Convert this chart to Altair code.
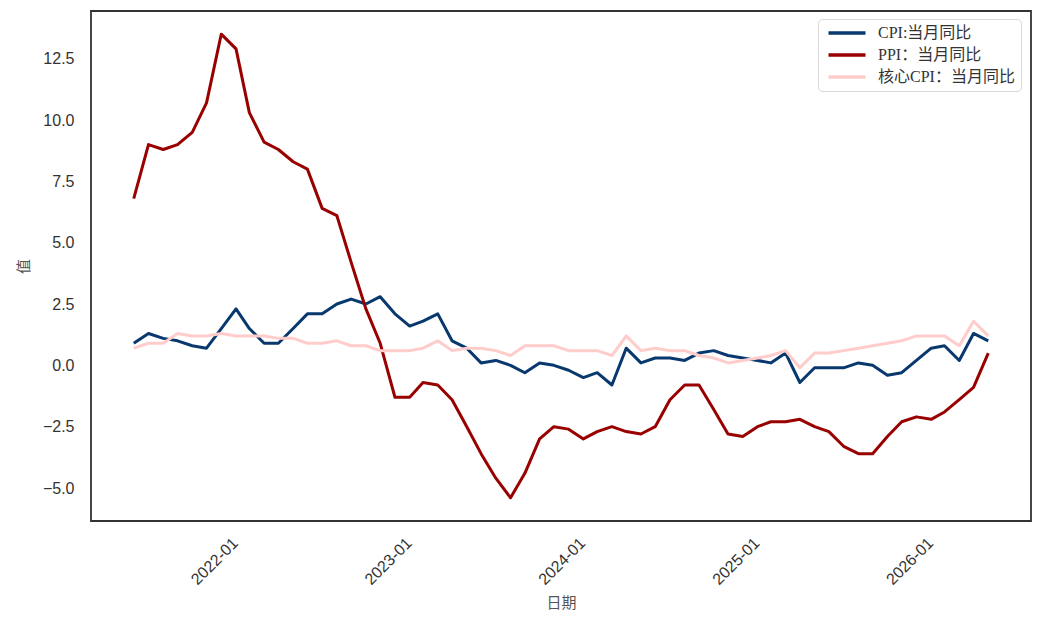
import altair as alt
import pandas as pd

# ---- data ----
start_month = "2021-07-01"
n_months = 60

cpi = [0.9, 1.3, 1.1, 1.0, 0.8, 0.7, 1.5, 2.3, 1.5, 0.9,
       0.9, 1.5, 2.1, 2.1, 2.5, 2.7, 2.5, 2.8, 2.1, 1.6,
       1.8, 2.1, 1.0, 0.7, 0.1, 0.2, 0.0, -0.3, 0.1, 0.0,
       -0.2, -0.5, -0.3, -0.8, 0.7, 0.1, 0.3, 0.3, 0.2, 0.5,
       0.6, 0.4, 0.3, 0.2, 0.1, 0.5, -0.7, -0.1, -0.1, -0.1,
       0.1, 0.0, -0.4, -0.3, 0.2, 0.7, 0.8, 0.2, 1.3, 1.0]

ppi = [6.8, 9.0, 8.8, 9.0, 9.5, 10.7, 13.5, 12.9, 10.3, 9.1,
       8.8, 8.3, 8.0, 6.4, 6.1, 4.2, 2.3, 0.9, -1.3, -1.3,
       -0.7, -0.8, -1.4, -2.5, -3.6, -4.6, -5.4, -4.4, -3.0, -2.5,
       -2.6, -3.0, -2.7, -2.5, -2.7, -2.8, -2.5, -1.4, -0.8, -0.8,
       -1.8, -2.8, -2.9, -2.5, -2.3, -2.3, -2.2, -2.5, -2.7, -3.3,
       -3.6, -3.6, -2.9, -2.3, -2.1, -2.2, -1.9, -1.4, -0.9, 0.5]

core_cpi = [0.7, 0.9, 0.9, 1.3, 1.2, 1.2, 1.3, 1.2, 1.2, 1.2,
            1.1, 1.1, 0.9, 0.9, 1.0, 0.8, 0.8, 0.6, 0.6, 0.6,
            0.7, 1.0, 0.6, 0.7, 0.7, 0.6, 0.4, 0.8, 0.8, 0.8,
            0.6, 0.6, 0.6, 0.4, 1.2, 0.6, 0.7, 0.6, 0.6, 0.4,
            0.3, 0.1, 0.2, 0.3, 0.4, 0.6, -0.1, 0.5, 0.5, 0.6,
            0.7, 0.8, 0.9, 1.0, 1.2, 1.2, 1.2, 0.8, 1.8, 1.2]

series_names = ["CPI:当月同比", "PPI：当月同比", "核心CPI：当月同比"]
series_colors = ["#08386e", "#990000", "#ffcccc"]

x_tick_dates = ["2022-01-01", "2023-01-01", "2024-01-01", "2025-01-01", "2026-01-01"]
y_tick_values = [-5.0, -2.5, 0.0, 2.5, 5.0, 7.5, 10.0, 12.5]

# ---- build long table ----
months = pd.date_range(start_month, periods=n_months, freq="MS")
rows = []
for name, vals in zip(series_names, [cpi, ppi, core_cpi]):
    for d, v in zip(months, vals):
        rows.append({"date": d.strftime("%Y-%m-%d"), "series": name, "value": v})
df = pd.DataFrame(rows)


def ms(ts):
    return int(pd.Timestamp(ts).value // 10**6)


# matplotlib-like 5% margins
t0, t1 = ms(months[0]), ms(months[-1])
tspan = t1 - t0
x_domain = [t0 - 0.05 * tspan, t1 + 0.05 * tspan]
all_vals = cpi + ppi + core_cpi
vmin, vmax = min(all_vals), max(all_vals)
vspan = vmax - vmin
y_domain = [vmin - 0.05 * vspan, vmax + 0.05 * vspan]

chart = alt.Chart(df).mark_line(strokeWidth=3, strokeJoin="round").encode(
    x=alt.X(
        "date:T",
        scale=alt.Scale(type="utc", domain=x_domain, nice=False),
        axis=alt.Axis(
            values=[ms(d) for d in x_tick_dates],
            labelExpr="utcFormat(datum.value, '%Y-%m')",
            labelAngle=-45,
            labelAlign="center",
            labelBaseline="middle",
            labelPadding=40,
            labelOffset=-7,
            title="日期",
            titlePadding=8,
        ),
    ),
    y=alt.Y(
        "value:Q",
        scale=alt.Scale(domain=y_domain, nice=False, zero=False),
        axis=alt.Axis(
            values=y_tick_values,
            format=".1f",
            labelPadding=17,
            title="值",
            titlePadding=11,
        ),
    ),
    color=alt.Color(
        "series:N",
        scale=alt.Scale(domain=series_names, range=series_colors),
        sort=series_names,
        legend=alt.Legend(
            title=None,
            orient="none",
            legendX=727,
            legendY=8,
            symbolType="M-3,0H3",
            symbolStrokeWidth=3.5,
            symbolSize=152,
            symbolOffset=15,
            labelFont="Liberation Serif, Noto Sans CJK SC",
            labelFontSize=16,
            labelColor="#333333",
            labelOffset=23,
            fillColor="rgba(255,255,255,0.85)",
            strokeColor="#d8d8d8",
            cornerRadius=4,
            padding=6,
            rowPadding=6,
        ),
    ),
).properties(
    width=940,
    height=510,
    autosize=alt.AutoSizeParams(type="none"),
    padding={"left": 83, "top": 3, "right": 2, "bottom": 93},
).configure_view(
    stroke="#333333",
    strokeWidth=1.8,
).configure_axis(
    domain=False,
    ticks=False,
    grid=False,
    labelFont="Liberation Sans",
    labelFontSize=16,
    labelColor="#333333",
    titleFont="Noto Sans CJK SC",
    titleFontSize=15,
    titleFontWeight="normal",
    titleColor="#555555",
)

chart.save("out.html", embed_options={"renderer": "svg", "actions": False})
